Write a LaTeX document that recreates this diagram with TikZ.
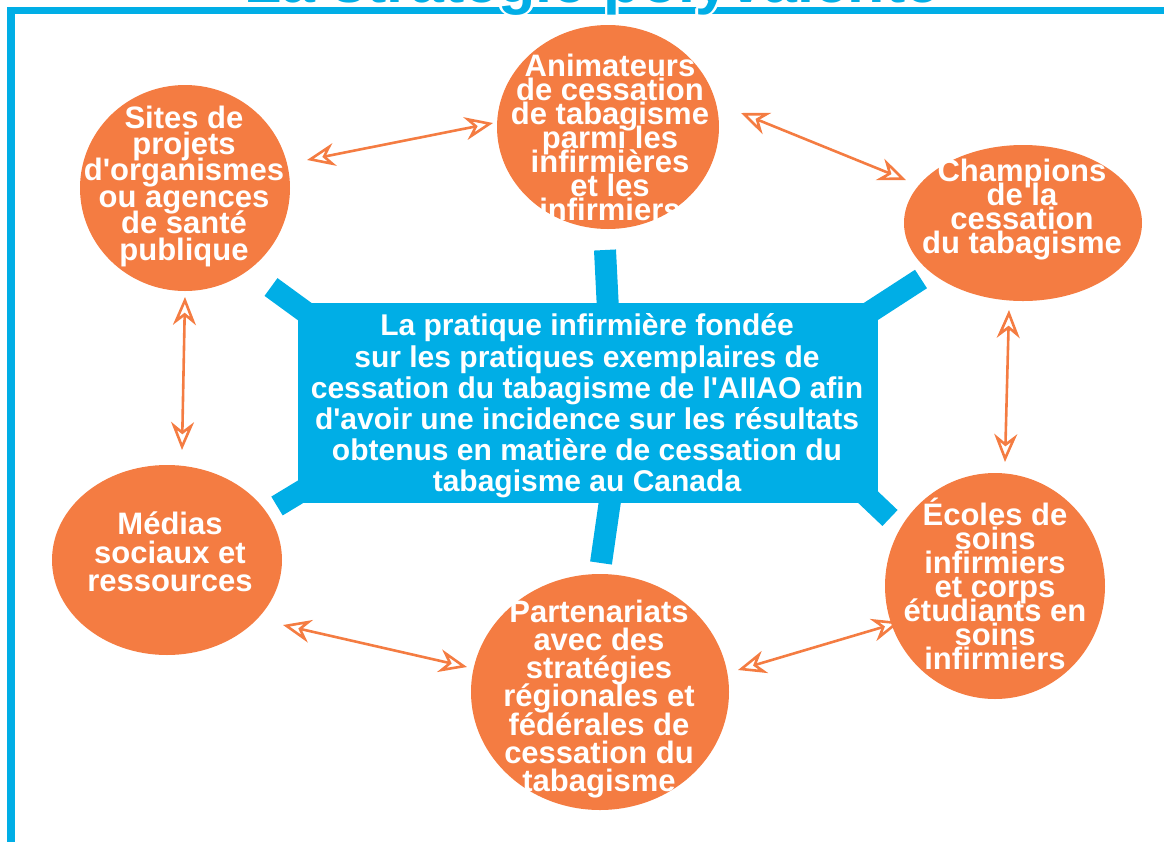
\documentclass[tikz,border=0pt]{standalone}
\usepackage{fontspec}
\newfontfamily\lib{Liberation Sans}
\usetikzlibrary{shapes.geometric,arrows.meta}
\definecolor{org}{RGB}{244,124,66}
\definecolor{cyanb}{RGB}{0,174,230}
\newcommand{\tightlines}{\lineskiplimit=-50pt\lineskip=0pt}
\begin{document}
\begin{tikzpicture}[x=0.5pt,y=-0.5pt,
  blob/.style={ellipse, fill=org, draw=none, inner sep=0pt},
  btext/.style={text=white, align=center, inner sep=0pt},
  spoke/.style={draw=cyanb, line width=11pt},
  biarrow/.style={draw=org, line width=1.3pt,
    {Stealth[open,length=14pt,width=11.5pt,inset=4.5pt]}-{Stealth[open,length=14pt,width=11.5pt,inset=4.5pt]}},
  ttl/.style={font=\lib\bfseries\fontsize{30.5}{30}\selectfont, anchor=base, inner sep=0pt}
]
\useasboundingbox (0,0) rectangle (1164,842);
\clip (0,0) rectangle (1164,842);

% frame
\fill[cyanb] (7,7) rectangle (1164,14);
\fill[cyanb] (7,7) rectangle (15,842);

% title (cut by the top edge)
\foreach \i in {0,...,7}
  \node[ttl, text=white, shift={(\i*45:1.4pt)}] (tc\i) at (592,2) {La stratégie polyvalente};
\node[ttl, text=cyanb] (title) at (592,2) {La stratégie polyvalente};

% spokes
\coordinate (sTL) at (271,287);
\coordinate (sT) at (605,250);
\coordinate (sTR) at (921,279);
\coordinate (sBR) at (890,518);
\coordinate (sB) at (601,563);
\coordinate (sBL) at (277,506);
\draw[spoke] (330,330) -- (sTL);
\draw[spoke] (609,330) -- (sT);
\draw[spoke] (850,325) -- (sTR);
\draw[spoke] (850,480) -- (sBR);
\draw[spoke] (613,480) -- (sB);
\draw[spoke] (320,480) -- (sBL);

% central box
\node[fill=cyanb, minimum width=290pt, minimum height=100pt, inner sep=0pt] (box) at (588,403) {};
\node[btext, font=\lib\bfseries\fontsize{15}{15.6}\selectfont\tightlines] (boxt) at (587,406)
 {La pratique infirmière fondée\\sur les pratiques exemplaires de\\cessation du tabagisme de l'AIIAO afin\\d'avoir une incidence sur les résultats\\obtenus en matière de cessation du\\tabagisme au Canada};

% ellipses
\node[blob, minimum width=111pt, minimum height=102pt] (anim) at (608,127) {};
\node[blob, minimum width=105pt, minimum height=103pt] (sites) at (185,188) {};
\node[blob, minimum width=119pt, minimum height=78pt] (champ) at (1023,223) {};
\node[blob, minimum width=115pt, minimum height=95pt] (medias) at (167,560) {};
\node[blob, minimum width=129pt, minimum height=118pt] (parten) at (600,692) {};
\node[blob, minimum width=110pt, minimum height=113pt] (ecoles) at (995,586) {};

\node[btext, font=\lib\bfseries\fontsize{15.5}{12}\selectfont\tightlines] (animt) at (610,137)
 {Animateurs\\de cessation\\de tabagisme\\parmi les\\infirmières\\et les\\infirmiers};
\node[btext, font=\lib\bfseries\fontsize{15.5}{13.2}\selectfont\tightlines] (sitest) at (184,186)
 {Sites de\\projets\\d'organismes\\ou agences\\de santé\\publique};
\node[btext, font=\lib\bfseries\fontsize{15.5}{12}\selectfont\tightlines] (champt) at (1022,210)
 {Champions\\de la\\cessation\\du tabagisme};
\node[btext, font=\lib\bfseries\fontsize{15.5}{14.25}\selectfont\tightlines] (mediast) at (170,552)
 {Médias\\sociaux et\\ressources};
\node[btext, font=\lib\bfseries\fontsize{15.5}{14.1}\selectfont\tightlines] (partent) at (599,699)
 {Partenariats\\avec des\\stratégies\\régionales et\\fédérales de\\cessation du\\tabagisme};
\node[btext, font=\lib\bfseries\fontsize{15.5}{12}\selectfont\tightlines] (ecolest) at (995,584)
 {Écoles de\\soins\\infirmiers\\et corps\\étudiants en\\soins\\infirmiers};

% arrows
\coordinate (a1s) at (307,160); \coordinate (a1e) at (493,123);
\coordinate (a2s) at (741,113); \coordinate (a2e) at (906,180);
\coordinate (a3s) at (185,297); \coordinate (a3e) at (182,450);
\coordinate (a4s) at (1009,310); \coordinate (a4e) at (1005,462);
\coordinate (a5s) at (283,625); \coordinate (a5e) at (467,667);
\coordinate (a6s) at (738,670); \coordinate (a6e) at (900,622);
\draw[biarrow] (a1s) -- (a1e);
\draw[biarrow] (a2s) -- (a2e);
\draw[biarrow] (a3s) -- (a3e);
\draw[biarrow] (a4s) -- (a4e);
\draw[biarrow] (a5s) -- (a5e);
\draw[biarrow] (a6s) -- (a6e);
\end{tikzpicture}
\end{document}
